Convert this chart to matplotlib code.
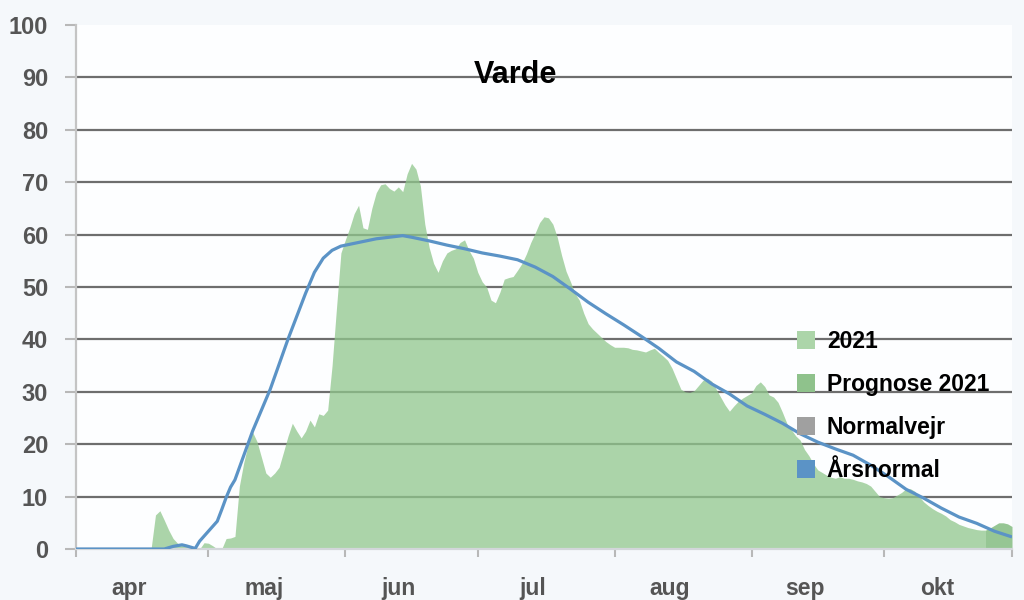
import matplotlib
matplotlib.use('Agg')
import matplotlib.pyplot as plt
from matplotlib.patches import Patch

plt.rcParams['font.family'] = ['Liberation Sans', 'DejaVu Sans']

# ---- data ----
months = ['apr', 'maj', 'jun', 'jul', 'aug', 'sep', 'okt']
month_starts = [0, 30, 61, 91, 122, 153, 183]
x_end = 212
y_ticks = [0, 10, 20, 30, 40, 50, 60, 70, 80, 90, 100]
title = 'Varde'

days_2021 = [0, 17, 18, 19, 20, 21, 22, 23, 24, 25, 26, 27, 28, 29, 30, 31, 32, 33, 34, 35, 36,
             37, 38, 39, 40, 41, 42, 43, 44, 45, 46, 47, 48, 49, 50, 51, 52, 53, 54, 55, 56, 57,
             58, 59, 60, 61, 62, 63, 64, 65, 66, 67, 68, 69, 70, 71, 72, 73, 74, 75, 76, 77, 78,
             79, 80, 81, 82, 83, 84, 85, 86, 87, 88, 89, 90, 91, 92, 93, 94, 95, 96, 97, 98, 99,
             100, 101, 102, 103, 104, 105, 106, 107, 108, 109, 110, 111, 112, 113, 114, 115, 116,
             117, 118, 119, 120, 121, 122, 123, 124, 125, 126, 127, 128, 129, 130, 131, 132, 133,
             134, 135, 136, 137, 138, 139, 140, 141, 142, 143, 144, 145, 146, 147, 148, 149, 150,
             151, 152, 153, 154, 155, 156, 157, 158, 159, 160, 161, 162, 163, 164, 165, 166, 167,
             168, 169, 170, 171, 172, 173, 174, 175, 176, 177, 178, 179, 180, 181, 182, 183, 184,
             185, 186, 187, 188, 189, 190, 191, 192, 193, 194, 195, 196, 197, 198, 199, 200, 201,
             202, 203, 204, 205, 206]
vals_2021 = [0, 0, 6.5, 7.3, 5.5, 3.6, 2.0, 1.1, 0.7, 0.5, 0.4, 0.2, 0, 1.2, 1.1, 0.6, 0, 0, 2.0, 2.1, 2.4,
             12, 16.5, 20, 22.3, 20.5, 17.5, 14.5, 13.7, 14.5, 15.6, 18.5, 21.5, 24, 22.5, 21.2, 22.5, 24.6, 23.3, 25.8, 25.5, 26.5,
             35, 46, 56.5, 59, 61.3, 64, 65.6, 61.3, 61, 65, 68, 69.5, 69.7, 68.8, 68.3, 69.1, 68.2, 71.6, 73.6, 72.5, 69.3,
             62, 57.5, 54.5, 52.8, 55, 56.5, 57, 57.3, 58.5, 59, 57, 55.5, 52.8, 51, 50, 47.5, 47, 49, 51.5, 51.8, 52,
             53.2, 54.5, 56.3, 58.5, 60.3, 62.3, 63.4, 63.2, 62, 59.5, 56, 53, 51, 48.8, 47.5, 45, 43,
             42, 41.2, 40.4, 39.6, 39, 38.5, 38.5, 38.5, 38.4, 38.1, 38, 37.8, 37.6, 38, 38.3, 37.5, 36.8,
             36, 34.5, 32.5, 30.5, 30, 29.9, 30.2, 31.2, 32.2, 32.6, 32, 30.5, 29, 27.5, 26.3, 27.3, 28.2,
             28.8, 29.3, 29.8, 31.2, 31.9, 31, 29.4, 29, 28, 26.1, 24, 22.8, 21.6, 20.8, 19, 17.8, 16.3,
             15.1, 14.6, 14.1, 13.7, 13.5, 13.8, 13.5, 13.5, 13.3, 13.0, 12.8, 12.5, 12, 11, 10, 9.8, 9.7,
             9.8, 10.3, 10.8, 11.5, 11.5, 11, 10, 9.0, 8.3, 7.7, 7.2, 6.8, 6.3, 5.6, 5.2, 4.7, 4.4,
             4.1, 3.9, 3.7, 3.6, 3.6]

days_prog = [206, 207, 208, 209, 210, 211, 212]
vals_prog = [3.6, 4.0, 4.5, 5.0, 5.0, 4.8, 4.3]

days_norm = [0, 20, 22, 24, 25, 27, 28, 30, 32, 33, 34, 35, 36, 40, 44, 48, 52, 54, 56, 58, 60,
             64, 68, 72, 74, 76, 80, 84, 88, 92, 96, 100, 104, 108, 112, 116, 120, 124, 128, 132,
             136, 140, 144, 148, 152, 156, 160, 164, 168, 172, 176, 180, 184, 188, 192, 196, 200,
             204, 208, 212]
vals_norm = [0, 0, 0.5, 0.8, 0.6, 0.1, 1.5, 3.4, 5.3, 7.5, 9.8, 11.8, 13.2, 22.5, 30.5, 40, 48.8, 52.8, 55.5, 57, 57.8,
             58.5, 59.2, 59.6, 59.8, 59.5, 58.8, 58, 57.3, 56.5, 55.9, 55.2, 53.8, 52, 49.6, 47.1, 44.9, 42.8, 40.6, 38.3,
             35.7, 33.9, 31.5, 29.6, 27.3, 25.7, 24, 22.0, 20.4, 19.1, 17.9, 16.0, 13.8, 11.4, 9.7, 7.8, 6.1,
             4.9, 3.4, 2.3]

labels = ['2021', 'Prognose 2021', 'Normalvejr', 'Årsnormal']
colors = ['#acd5a9', '#8fc28c', '#a0a0a0', '#5b93c6']

# ---- figure ----
fig = plt.figure(figsize=(10.24, 6), dpi=100, facecolor='#f5f8fb')
ax = fig.add_axes([76 / 1024, 51 / 600, 936 / 1024, 524 / 600])
ax.set_facecolor('#fdfeff')

ax.fill_between(days_2021, 0, vals_2021, color='#90c78c', alpha=0.75, lw=0, zorder=2)
ax.fill_between(days_prog, 0, vals_prog, color='#74b470', alpha=0.75, lw=0, zorder=2)
ax.plot(days_norm, vals_norm, color='#5b93c6', lw=2.3, zorder=3, solid_capstyle='butt')

ax.set_xlim(0, x_end)
ax.set_ylim(0, 100)

# grid
ax.set_yticks(y_ticks)
ax.yaxis.grid(True, color='#6e6e6e', lw=1.6, zorder=1)
ax.set_axisbelow(True)
gl = ax.get_ygridlines()
gl[0].set_visible(False)
gl[-1].set_visible(False)

ax.tick_params(axis='y', length=8, width=1.5, color='#b8b8b8', pad=12,
               labelsize=17, labelcolor='#555555')
for t in ax.get_yticklabels():
    t.set_fontweight('bold')

# x ticks
ax.set_xticks(month_starts + [x_end])
ax.set_xticklabels([])
ax.tick_params(axis='x', which='major', length=6, width=1.5, color='#b8b8b8', pad=2)
label_pos = [(month_starts[i] + (month_starts[i + 1] if i + 1 < len(month_starts) else x_end + 1)) / 2 - 3
             for i in range(len(month_starts))]
ax.set_xticks(label_pos, minor=True)
ax.set_xticklabels(months, minor=True, fontsize=16.5, color='#555555', fontweight='bold')
ax.tick_params(axis='x', which='minor', length=0, pad=20)

for s in ['top', 'right']:
    ax.spines[s].set_visible(False)
ax.spines['left'].set_color('#c4c4c4')
ax.spines['left'].set_linewidth(1.6)
ax.spines['bottom'].set_color('#d2d6da')
ax.spines['bottom'].set_linewidth(1.6)

ax.text((515 - 76) / 936, (549 - 75) / 524, title, transform=ax.transAxes,
        ha='center', va='center', fontsize=22, fontweight='bold', color='black')

handles = [Patch(facecolor=c, edgecolor='none') for c in colors]
leg = ax.legend(handles, labels, loc='upper left',
                bbox_to_anchor=(797 / 1024, 270 / 600), bbox_transform=fig.transFigure,
                frameon=False, handlelength=0.8, handleheight=0.8, handletextpad=0.5,
                labelspacing=0.87, borderpad=0, borderaxespad=0,
                prop={'size': 16.5, 'weight': 'bold'})
for t in leg.get_texts():
    t.set_color('black')

fig.savefig('out.png', dpi=100, facecolor=fig.get_facecolor())
